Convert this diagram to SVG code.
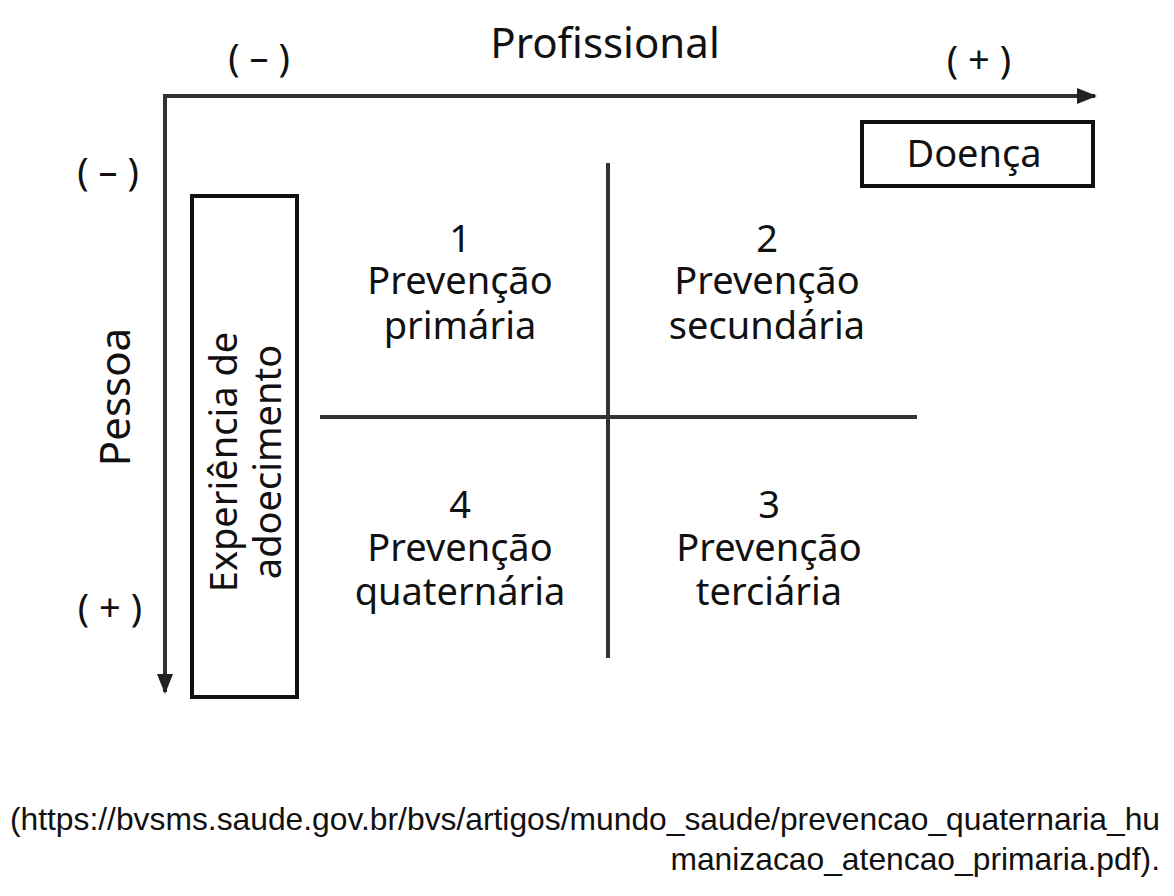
<svg xmlns="http://www.w3.org/2000/svg" width="1174" height="896" viewBox="0 0 1174 896">
<style>
.t{font-family:"Noto Sans","Open Sans",sans-serif;font-size:38px;fill:#111;text-anchor:middle}
.b{font-size:42px}
.s{font-family:"Liberation Sans",Arial,sans-serif;font-size:31.8px;fill:#111;text-anchor:end}
.ln{stroke:#333;stroke-width:4;fill:none}
.bx{stroke:#111;stroke-width:4;fill:#fff}
</style>
<defs>
<marker id="ah" viewBox="0 0 20 20" refX="18" refY="10" markerWidth="20" markerHeight="20" markerUnits="userSpaceOnUse" orient="auto"><path d="M0,2 L20,10 L0,18 z" fill="#222"/></marker></defs>
<rect width="1174" height="896" fill="#fff"/>
<g id="connectors">
<path class="ln" d="M163,96 H1095" marker-end="url(#ah)"/>
<path class="ln" d="M165,96 V692" marker-end="url(#ah)"/>
<path class="ln" d="M320,417 H917"/>
<path class="ln" d="M608,163 V658"/>
</g>
<g id="labels">
<text class="t b" x="605" y="58">Profissional</text>
<text class="t" x="259" y="71">( – )</text>
<text class="t" x="979" y="73">( + )</text>
<text class="t" x="108" y="185">( – )</text>
<text class="t" x="110" y="621">( + )</text>
<text class="t b" transform="translate(130,397) rotate(-90)">Pessoa</text>
</g>
<g id="doenca"><rect class="bx" x="862" y="122" width="231" height="64"/><text class="t" x="974" y="167">Doença</text></g>
<g id="experiencia"><rect class="bx" x="192" y="196" width="105" height="501"/>
<text class="t" transform="translate(237,462) rotate(-90)">Experiência de</text>
<text class="t" transform="translate(281,462) rotate(-90)">adoecimento</text></g>
<g id="q1"><text class="t" x="460" y="252">1</text><text class="t" x="460" y="294">Prevenção</text><text class="t" x="460" y="339">primária</text></g>
<g id="q2"><text class="t" x="767" y="252">2</text><text class="t" x="767" y="294">Prevenção</text><text class="t" x="767" y="339">secundária</text></g>
<g id="q4"><text class="t" x="460" y="518">4</text><text class="t" x="460" y="561">Prevenção</text><text class="t" x="460" y="605">quaternária</text></g>
<g id="q3"><text class="t" x="769" y="518">3</text><text class="t" x="769" y="561">Prevenção</text><text class="t" x="769" y="605">terciária</text></g>
<text class="s" x="1160" y="830">(https://bvsms.saude.gov.br/bvs/artigos/mundo_saude/prevencao_quaternaria_hu</text>
<text class="s" x="1160" y="870">manizacao_atencao_primaria.pdf).</text>
</svg>
